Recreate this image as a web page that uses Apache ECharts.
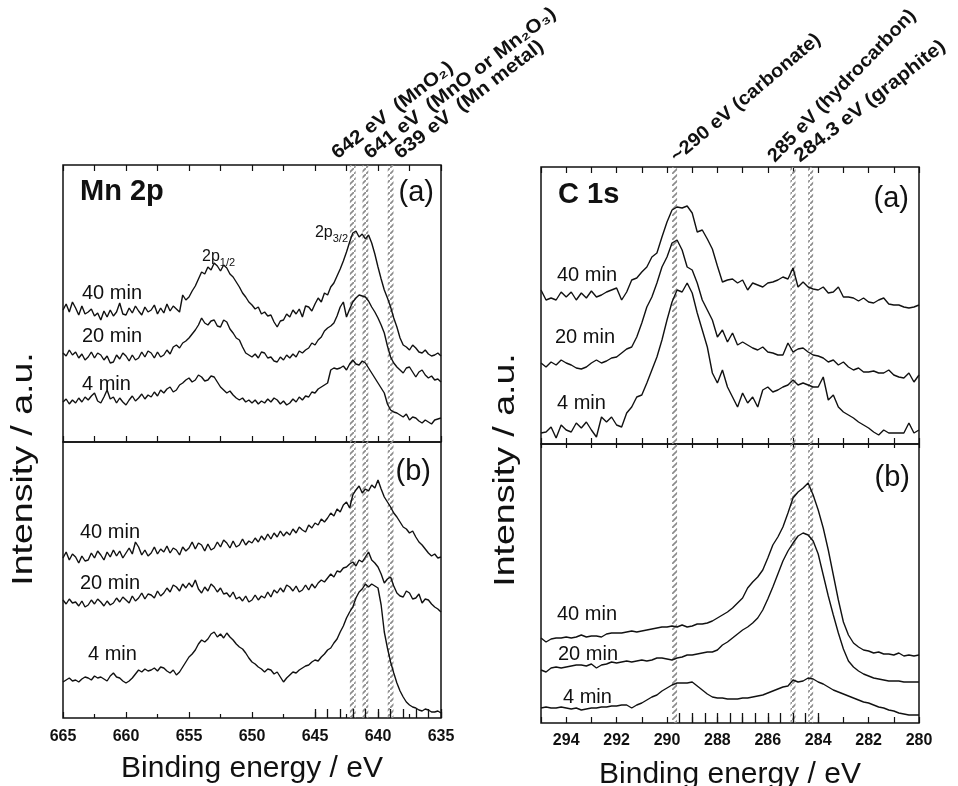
<!DOCTYPE html>
<html><head><meta charset="utf-8">
<script src="https://cdn.jsdelivr.net/npm/echarts@6/dist/echarts.min.js"></script>
<style>html,body{margin:0;padding:0;background:#fff}#c{width:958px;height:786px}</style>
</head><body><div id="c"></div>
<script>
// ---------- DATA ----------
const mnEnergy = [665,664.75,664.5,664.25,664,663.75,663.5,663.25,663,662.75,662.5,662.25,662,661.75,661.5,661.25,661,660.75,660.5,660.25,660,659.75,659.5,659.25,659,658.75,658.5,658.25,658,657.75,657.5,657.25,657,656.75,656.5,656.25,656,655.75,655.5,655.25,655,654.75,654.5,654.25,654,653.75,653.5,653.25,653,652.75,652.5,652.25,652,651.75,651.5,651.25,651,650.75,650.5,650.25,650,649.75,649.5,649.25,649,648.75,648.5,648.25,648,647.75,647.5,647.25,647,646.75,646.5,646.25,646,645.75,645.5,645.25,645,644.75,644.5,644.25,644,643.75,643.5,643.25,643,642.75,642.5,642.25,642,641.75,641.5,641.25,641,640.75,640.5,640.25,640,639.75,639.5,639.25,639,638.75,638.5,638.25,638,637.75,637.5,637.25,637,636.75,636.5,636.25,636,635.75,635.5,635.25,635];

// Mn 2p (a)
const mnA40 = [132,138,130,140,134,127,136,128,130,133,126,129,122,131,125,132,126,130,139,128,127,134,129,136,131,127,135,130,132,137,128,134,129,138,131,136,133,130,147,142,145,151,156,163,170,168,175,172,179,176,171,177,174,168,165,160,155,149,145,140,137,133,135,128,130,126,127,120,115,121,122,128,125,132,128,133,125,136,135,131,138,144,140,149,147,155,159,166,173,181,190,200,209,211,205,208,203,207,199,188,175,163,152,144,135,124,115,104,97,95,92,97,94,90,89,92,88,86,87,89,86];
const mnA20 = [89,86,92,87,90,84,88,82,85,90,84,89,87,82,86,79,80,87,83,89,86,81,87,82,84,90,85,91,89,84,90,85,87,92,88,95,97,94,99,101,104,108,112,117,124,119,117,121,122,116,115,122,120,113,109,104,102,95,89,87,85,88,84,90,89,84,85,81,80,85,82,87,84,88,85,91,89,92,94,99,97,102,105,111,114,116,119,126,135,140,125,133,140,144,147,146,145,141,135,130,124,117,109,96,85,79,75,72,69,74,75,70,65,70,72,67,64,66,62,63,60];
const mnA4 = [40,43,38,42,39,44,40,45,42,46,49,41,39,45,52,43,45,39,44,40,37,42,46,41,44,48,43,47,45,50,46,52,49,53,55,50,52,57,59,62,64,60,62,67,65,61,62,66,65,60,55,52,49,51,47,44,42,44,40,42,39,42,38,41,39,43,40,44,42,38,41,37,39,43,40,45,42,46,45,50,49,53,55,57,59,72,74,73,74,76,72,78,82,78,77,81,79,74,69,64,59,54,49,38,32,30,29,27,25,28,22,25,24,21,19,22,20,18,22,23,24];
// Mn 2p (b)
const mnB40 = [160,166,158,164,161,155,162,157,158,165,160,167,163,158,166,161,168,162,167,160,165,170,164,176,171,163,168,162,165,171,164,169,166,172,165,170,168,163,171,167,170,176,169,175,173,167,174,168,170,176,171,178,175,170,177,171,173,179,173,177,175,180,176,182,178,184,179,185,181,187,182,186,183,189,185,191,188,186,193,190,195,193,199,196,200,205,202,209,206,213,216,210,223,228,232,225,229,227,233,230,238,229,221,216,211,205,201,196,191,189,185,187,181,176,173,169,165,162,164,160,161];
const mnB20 = [118,114,119,115,116,112,117,111,113,118,114,119,116,112,117,113,115,120,116,121,118,115,122,117,120,125,119,124,123,120,127,122,125,130,126,133,131,127,134,130,135,131,138,129,125,131,127,134,131,126,130,124,125,121,126,119,121,117,122,116,118,123,118,122,120,126,121,128,125,130,126,133,131,127,132,126,128,133,128,134,130,135,138,136,140,144,141,147,146,150,151,154,156,152,158,156,161,166,158,155,151,144,135,139,141,132,125,122,121,127,125,119,120,124,115,119,118,114,111,109,106];
const mnB4 = [36,38,40,37,38,36,39,41,40,38,42,40,41,39,37,42,45,41,40,37,35,37,40,44,48,46,49,47,48,50,47,51,50,47,45,48,43,46,51,56,61,64,68,74,78,76,79,84,86,81,84,80,85,81,78,74,71,69,65,60,56,54,51,49,46,49,48,44,46,41,36,40,43,46,45,48,50,52,53,56,58,57,61,64,68,70,75,79,86,92,100,106,111,120,126,129,134,131,134,132,130,113,86,70,56,45,35,27,21,16,13,11,10,8,7,9,8,6,6,7,5];

const cEnergy = [295,294.8,294.6,294.4,294.2,294,293.8,293.6,293.4,293.2,293,292.8,292.6,292.4,292.2,292,291.8,291.6,291.4,291.2,291,290.8,290.6,290.4,290.2,290,289.8,289.6,289.4,289.2,289,288.8,288.6,288.4,288.2,288,287.8,287.6,287.4,287.2,287,286.8,286.6,286.4,286.2,286,285.8,285.6,285.4,285.2,285,284.8,284.6,284.4,284.2,284,283.8,283.6,283.4,283.2,283,282.8,282.6,282.4,282.2,282,281.8,281.6,281.4,281.2,281,280.8,280.6,280.4,280.2,280];

// C 1s (a)
const cA40 = [154,144,146,144,152,147,152,144,151,146,153,147,149,152,154,156,144,152,164,166,172,177,187,191,207,222,234,237,236,238,231,212,214,205,195,178,162,164,165,161,164,154,161,159,157,161,162,164,167,165,176,157,162,157,155,154,157,151,152,157,147,147,146,143,146,142,141,144,146,140,139,139,137,136,137,139];
const cA20 = [81,77,82,79,84,81,79,76,75,77,81,84,81,83,86,87,91,95,97,107,121,137,147,161,177,187,201,204,194,177,174,161,144,134,124,107,114,102,111,99,102,99,96,94,97,92,91,89,89,101,92,95,96,92,89,88,86,82,84,79,82,77,74,76,72,72,73,71,71,74,69,67,66,71,62,69];
const cA4 = [11,12,17,6,19,14,12,21,16,22,14,7,27,22,27,19,17,31,37,47,49,61,74,87,104,124,142,154,152,161,151,131,114,97,71,61,74,57,47,37,51,41,47,37,54,57,52,54,57,59,64,59,61,59,57,57,67,44,49,37,32,29,26,22,19,16,12,9,14,11,11,11,11,21,11,14];
// C 1s (b)
const cB40 = [85,81,84,85,85,86,85,86,88,86,87,87,86,89,90,90,90,91,92,91,92,93,94,95,96,96,97,96,98,96,97,99,99,100,102,105,108,111,115,120,125,135,141,146,153,165,178,186,196,210,225,231,235,240,228,213,195,173,148,123,101,88,80,76,73,72,70,71,69,69,68,70,67,68,67,68];
const cB20 = [53,51,55,56,55,56,57,58,58,57,59,55,58,59,61,60,61,62,61,62,63,62,63,65,65,64,63,65,66,68,68,69,70,71,71,73,78,81,85,89,93,96,100,105,113,124,136,149,162,172,180,187,190,188,182,169,148,127,108,90,74,62,56,52,49,47,45,44,43,42,42,42,41,41,41,41];
const cB4 = [15,16,15,15,16,15,14,15,13,14,15,15,16,16,17,17,18,18,15,18,20,23,26,28,32,35,38,40,40,40,41,37,33,29,26,25,25,24,24,24,25,25,26,27,28,30,32,34,36,37,43,41,42,45,44,41,39,36,33,31,29,27,25,23,21,20,18,16,15,13,12,10,9,8,8,8];

// reference energies (hatched bands) and their labels
const mnBands = [642, 641, 639];
const mnBandLabels = ['642 eV  (MnO\u2082)', '641 eV  (MnO or Mn\u2082O\u2083)', '639 eV  (Mn metal)'];
const cBands = [289.7, 285, 284.3];
const cBandLabels = ['~290 eV (carbonate)', '285 eV (hydrocarbon)', '284.3 eV (graphite)'];
// fine tick marks along bottom of panels (b)
const mnFineTicks = [645,644,643,642,641,640,639,638,637,636,635];
const cFineTicks = [289.5,289,288.5,288,287.5,287,286.5,286,285.5,285,284.5,284];
const timeLabels = ['40 min', '20 min', '4 min'];

// ---------- CHART ----------
const FONT = '"Liberation Sans", Arial, Helvetica, sans-serif';
const INK = '#111';
const chart = echarts.init(document.getElementById('c'));

function pairs(xs, ys) {
  if (xs.length !== ys.length) throw new Error('length mismatch ' + xs.length + ' vs ' + ys.length);
  return xs.map((x, i) => [x, ys[i]]);
}
function hatch() {
  const c = document.createElement('canvas');
  c.width = 6; c.height = 6;
  const g = c.getContext('2d');
  g.strokeStyle = '#8c8c8c'; g.lineWidth = 1.7;
  g.beginPath();
  g.moveTo(-1, 7); g.lineTo(7, -1);
  g.stroke();
  return c;
}
const pattern = { image: hatch(), repeat: 'repeat' };

const tickStyle = { color: INK, width: 1.2 };
function xAxis(grid, pos, min, max, interval, extra) {
  return Object.assign({
    type: 'value', gridIndex: grid, position: pos, min: min, max: max, inverse: true, interval: interval,
    axisLine: { show: false }, splitLine: { show: false },
    axisTick: { show: true, inside: true, length: 6, lineStyle: tickStyle },
    axisLabel: { show: false }
  }, extra || {});
}
const labelStyle = { show: true, color: INK, fontFamily: FONT, fontWeight: 'bold', fontSize: 16 };
const nameStyle = { color: INK, fontFamily: FONT, fontSize: 30 };

function lineSeries(xi, yi, xs, ys, extra) {
  return Object.assign({
    type: 'line', xAxisIndex: xi, yAxisIndex: yi, data: pairs(xs, ys),
    showSymbol: false, symbol: 'none', z: 3, silent: true,
    lineStyle: { color: INK, width: 1.4 }, animation: false
  }, extra || {});
}
function bandArea(bands, hw) {
  return { silent: true, z: 1, label: { show: false },
    itemStyle: { color: pattern, borderWidth: 0, borderColor: 'transparent', opacity: 1 },
    data: bands.map(e => [{ xAxis: e + hw }, { xAxis: e - hw }]) };
}
function fineTicks(ticks, len) {
  return { silent: true, symbol: ['none', 'none'], label: { show: false }, animation: false,
    lineStyle: { color: INK, width: 1.3, type: 'solid' },
    data: ticks.map(e => [{ coord: [e, 0] }, { coord: [e, len] }]) };
}

const gridBase = { show: true, borderColor: INK, borderWidth: 1.5, backgroundColor: 'transparent', containLabel: false, outerBoundsMode: 'none' };
const option = {
  animation: false,
  backgroundColor: '#fff',
  grid: [
    Object.assign({ left: 63, top: 165, width: 378, height: 277 }, gridBase),
    Object.assign({ left: 63, top: 442, width: 378, height: 276 }, gridBase),
    Object.assign({ left: 541, top: 167, width: 378, height: 277 }, gridBase),
    Object.assign({ left: 541, top: 444, width: 378, height: 279 }, gridBase)
  ],
  xAxis: [
    xAxis(0, 'bottom', 635, 665, 2.5),
    xAxis(0, 'top', 635, 665, 2.5),
    xAxis(1, 'bottom', 635, 665, 5, {
      minorTick: { show: true, splitNumber: 2, length: 4, lineStyle: tickStyle },
      axisTick: { show: true, inside: true, length: 6, lineStyle: tickStyle },
      axisLabel: Object.assign({ margin: 11 }, labelStyle),
      name: 'Binding energy / eV', nameLocation: 'middle', nameGap: 36, nameTextStyle: nameStyle
    }),
    xAxis(2, 'bottom', 280, 295, 1),
    xAxis(2, 'top', 280, 295, 1),
    xAxis(3, 'bottom', 280, 295, 1, {
      axisLabel: Object.assign({ margin: 10, interval: 0, formatter: v => (Math.round(v) % 2 === 0 ? String(v) : '') }, labelStyle),
      name: 'Binding energy / eV', nameLocation: 'middle', nameGap: 37, nameTextStyle: nameStyle
    }),
    xAxis(3, 'top', 280, 295, 1, { axisTick: { show: true, inside: true, length: 4, lineStyle: tickStyle } })
  ],
  yAxis: [
    { type: 'value', gridIndex: 0, min: 0, max: 277, show: false },
    { type: 'value', gridIndex: 1, min: 0, max: 276, show: false },
    { type: 'value', gridIndex: 2, min: 0, max: 277, show: false },
    { type: 'value', gridIndex: 3, min: 0, max: 279, show: false }
  ],
  series: [
    lineSeries(0, 0, mnEnergy, mnA40, { name: 'Mn a ' + timeLabels[0], markArea: bandArea(mnBands, 0.23) }),
    lineSeries(0, 0, mnEnergy, mnA20, { name: 'Mn a ' + timeLabels[1] }),
    lineSeries(0, 0, mnEnergy, mnA4, { name: 'Mn a ' + timeLabels[2] }),
    lineSeries(2, 1, mnEnergy, mnB40, { name: 'Mn b ' + timeLabels[0], markArea: bandArea(mnBands, 0.23), markLine: fineTicks(mnFineTicks, 9) }),
    lineSeries(2, 1, mnEnergy, mnB20, { name: 'Mn b ' + timeLabels[1] }),
    lineSeries(2, 1, mnEnergy, mnB4, { name: 'Mn b ' + timeLabels[2] }),
    lineSeries(3, 2, cEnergy, cA40, { name: 'C a ' + timeLabels[0], markArea: bandArea(cBands, 0.1) }),
    lineSeries(3, 2, cEnergy, cA20, { name: 'C a ' + timeLabels[1] }),
    lineSeries(3, 2, cEnergy, cA4, { name: 'C a ' + timeLabels[2] }),
    lineSeries(5, 3, cEnergy, cB40, { name: 'C b ' + timeLabels[0], markArea: bandArea(cBands, 0.1), markLine: fineTicks(cFineTicks, 10) }),
    lineSeries(5, 3, cEnergy, cB20, { name: 'C b ' + timeLabels[1] }),
    lineSeries(5, 3, cEnergy, cB4, { name: 'C b ' + timeLabels[2] })
  ]
};
chart.setOption(option);

// ---------- ANNOTATIONS ----------
function txt(x, y, text, font, align, extra) {
  return Object.assign({ type: 'text', x: x, y: y, silent: true, z: 10,
    style: { text: text, font: font, fill: INK, textAlign: align || 'left', textVerticalAlign: 'middle', verticalAlign: 'middle' } }, extra || {});
}
const F = s => s + 'px ' + FONT;
const FB = s => 'bold ' + s + 'px ' + FONT;
const g = [];
// panel titles and tags
g.push(txt(80, 192, 'Mn 2p', FB(29)));
g.push(txt(434, 193, '(a)', F(29), 'right'));
g.push(txt(431, 472, '(b)', F(29), 'right'));
g.push(txt(558, 195, 'C 1s', FB(29)));
g.push(txt(909, 199, '(a)', F(29), 'right'));
g.push(txt(910, 478, '(b)', F(29), 'right'));
// time labels
const timePos = [
  [[82, 293], [82, 336], [82, 384]],
  [[80, 532], [80, 583], [88, 654]],
  [[557, 275], [555, 337], [557, 403]],
  [[557, 614], [558, 654], [563, 697]]
];
timePos.forEach(p => p.forEach((xy, i) => g.push(txt(xy[0], xy[1], timeLabels[i], F(20)))));
// y axis titles
[[24, 469], [506, 470]].forEach(xy => g.push({
  type: 'text', x: xy[0], y: xy[1], rotation: Math.PI / 2, scaleX: 1.25, silent: true,
  style: { text: 'Intensity / a.u.', font: F(30), fill: INK, textAlign: 'center', textVerticalAlign: 'middle', verticalAlign: 'middle' }
}));
// peak labels 2p1/2, 2p3/2
function subLabel(x, y, main, sub, align) {
  return { type: 'text', x: x, y: y, silent: true, z: 10,
    style: { text: '{m|' + main + '}{s|' + sub + '}', textAlign: align, textVerticalAlign: 'middle', verticalAlign: 'middle',
      rich: { m: { font: F(16), fill: INK, lineHeight: 18 },
              s: { font: F(11), fill: INK, lineHeight: 11, padding: [9, 0, 0, 0], verticalAlign: 'top' } } } };
}
g.push(subLabel(202, 257, '2p', '1/2', 'left'));
g.push(subLabel(348, 233, '2p', '3/2', 'right'));
// rotated band labels
const deg = Math.PI / 180;
const mnDx = [-13, 7, 12];
const mnAng = [37.5, 37.5, 37.5];
const cDx = [5, -15, -8];
const cAng = [40, 46, 38];
const cScale = [1.05, 1.05, 1.1];
const mnTop = chart.convertToPixel({ yAxisIndex: 0 }, 277);
const cTop = chart.convertToPixel({ yAxisIndex: 2 }, 277);
mnBands.forEach((e, i) => {
  const px = chart.convertToPixel({ xAxisIndex: 1 }, e);
  g.push({ type: 'text', x: px + mnDx[i], y: mnTop - 2, rotation: mnAng[i] * deg, scaleX: 1.1, silent: true,
    style: { text: mnBandLabels[i], font: FB(19), fill: INK, textAlign: 'left', textVerticalAlign: 'bottom', verticalAlign: 'bottom' } });
});
cBands.forEach((e, i) => {
  const px = chart.convertToPixel({ xAxisIndex: 4 }, e);
  g.push({ type: 'text', x: px + cDx[i], y: cTop - 1, rotation: cAng[i] * deg, scaleX: cScale[i], silent: true,
    style: { text: cBandLabels[i], font: FB(19), fill: INK, textAlign: 'left', textVerticalAlign: 'bottom', verticalAlign: 'bottom' } });
});
chart.setOption({ graphic: { elements: g } });
</script>
</body></html>
